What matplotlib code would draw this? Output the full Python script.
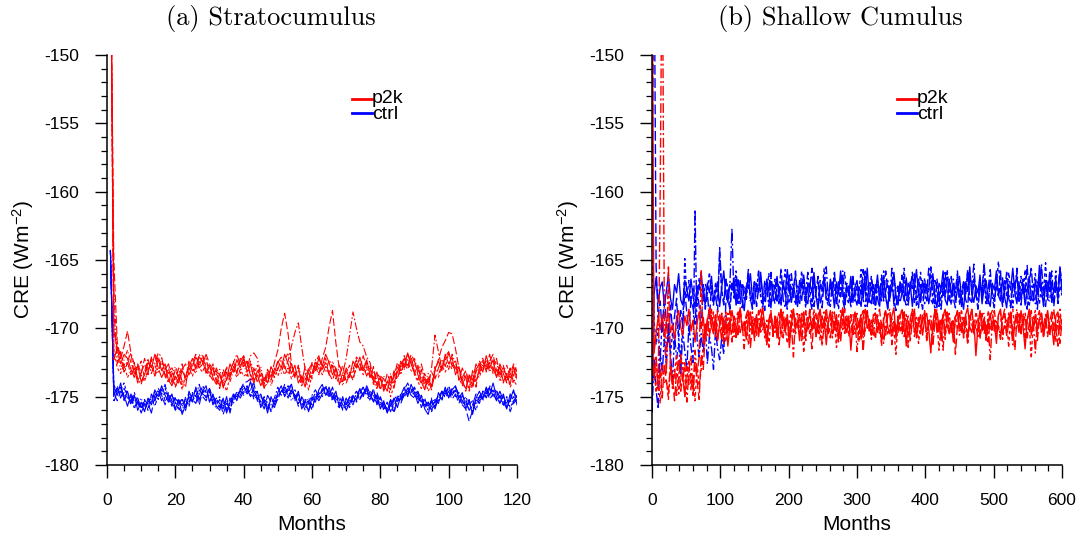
import numpy as np
import matplotlib
matplotlib.use('Agg')
import matplotlib.pyplot as plt

plt.rcParams['font.family'] = ['Liberation Sans', 'DejaVu Sans']
plt.rcParams['axes.unicode_minus'] = False
plt.rcParams['mathtext.default'] = 'regular'

## (a) Stratocumulus : monthly CRE, months 1..120
a_months = np.arange(1, 121)

a_p2k_1 = [-140.0, -170.2, -171.5, -172.6, -171.9, -172.2, -173.0, -173.6, -172.7, -173.9,
           -173.4, -172.5, -172.9, -171.9, -172.3, -173.1, -172.6, -173.8, -174.2, -173.5,
           -174.0, -173.1, -173.6, -172.8, -172.2, -173.0, -172.1, -172.4, -173.3, -172.7,
           -173.6, -174.1, -173.3, -174.3, -173.7, -172.6, -173.2, -172.3, -172.9, -172.1,
           -173.2, -172.6, -173.8, -173.4, -174.2, -173.6, -174.0, -172.8, -173.3, -172.4,
           -172.9, -171.9, -172.6, -173.3, -172.7, -174.0, -173.5, -174.3, -173.0, -172.6,
           -173.1, -172.2, -172.8, -171.9, -172.5, -173.4, -172.9, -174.0, -173.8, -173.1,
           -173.6, -172.4, -172.9, -172.1, -173.0, -172.3, -173.4, -173.8, -173.2, -174.4,
           -174.1, -174.6, -173.5, -174.0, -173.2, -172.5, -172.9, -171.8, -172.6, -173.3,
           -172.7, -173.9, -174.5, -173.6, -174.3, -173.0, -172.4, -173.1, -171.9, -172.6,
           -172.1, -173.4, -172.8, -174.0, -174.4, -173.5, -174.2, -173.0, -172.6, -173.2,
           -172.0, -172.9, -172.3, -173.6, -172.8, -173.9, -173.4, -174.1, -172.8, -173.7]
a_p2k_2 = [-140.0, -165.0, -171.0, -172.2, -171.3, -170.2, -171.8, -173.4, -172.6, -173.3,
           -172.2, -173.0, -172.3, -173.5, -172.1, -172.8, -173.6, -172.9, -174.0, -173.0,
           -173.7, -172.6, -173.9, -173.2, -172.5, -171.9, -172.8, -172.0, -173.1, -173.5,
           -172.8, -173.7, -174.4, -173.0, -173.8, -173.2, -172.4, -173.3, -172.2, -172.8,
           -172.4, -173.5, -172.9, -174.0, -173.2, -173.9, -173.0, -173.6, -172.5, -171.6,
           -170.0, -168.9, -170.4, -172.6, -173.5, -172.8, -174.1, -173.3, -173.9, -172.5,
           -172.8, -173.4, -172.2, -171.4, -169.9, -168.7, -171.1, -173.0, -173.9, -172.9,
           -173.3, -173.8, -172.6, -173.0, -172.0, -172.9, -173.6, -172.8, -174.2, -173.6,
           -174.4, -173.3, -174.0, -173.6, -172.5, -173.1, -172.0, -172.7, -172.1, -173.2,
           -173.8, -173.0, -174.3, -173.8, -174.5, -173.1, -172.3, -171.4, -170.9, -170.3,
           -170.4, -171.5, -172.9, -173.6, -173.1, -174.0, -173.3, -174.3, -172.7, -172.2,
           -173.0, -172.4, -171.9, -173.1, -173.5, -172.7, -174.0, -173.4, -172.6, -173.2]
a_p2k_3 = [-140.0, -168.5, -172.6, -171.7, -172.9, -172.4, -171.8, -172.6, -173.7, -174.1,
           -173.2, -172.2, -173.3, -172.6, -171.8, -172.1, -173.5, -174.0, -173.1, -173.8,
           -172.9, -173.9, -174.3, -172.5, -173.1, -172.8, -171.9, -172.5, -172.2, -173.4,
           -173.8, -172.9, -173.5, -174.0, -172.8, -173.4, -172.5, -171.9, -172.7, -172.3,
           -172.9, -172.0, -171.8, -172.2, -173.4, -174.1, -173.7, -172.9, -173.6, -173.0,
           -172.3, -173.0, -172.4, -171.3, -170.3, -169.6, -171.4, -173.0, -173.9, -173.3,
           -172.4, -173.0, -172.6, -173.2, -172.3, -172.8, -173.7, -172.7, -173.3, -172.2,
           -170.5, -168.8, -170.0, -171.0, -171.3, -172.1, -172.5, -173.9, -174.4, -173.5,
           -173.7, -174.2, -174.5, -173.3, -172.8, -173.4, -172.4, -171.9, -172.6, -172.2,
           -173.2, -172.6, -173.6, -174.2, -172.9, -170.5, -171.7, -173.0, -172.1, -171.7,
           -172.8, -172.3, -173.8, -172.9, -173.6, -174.5, -173.1, -173.9, -173.0, -172.3,
           -173.2, -172.5, -173.1, -172.2, -173.4, -172.8, -173.6, -172.9, -174.0, -173.3]
a_p2k_4 = [-140.0, -171.6, -172.9, -173.3, -172.6, -173.6, -173.1, -172.5, -173.8, -173.4,
           -173.9, -173.0, -172.7, -173.5, -172.9, -172.5, -172.9, -173.3, -172.8, -174.3,
           -173.4, -174.5, -173.4, -172.9, -173.5, -172.6, -172.9, -173.2, -172.5, -172.8,
           -173.5, -173.1, -174.2, -173.8, -174.6, -173.5, -172.9, -173.6, -173.0, -173.5,
           -173.3, -173.9, -173.4, -172.7, -173.7, -174.3, -174.0, -173.4, -172.9, -173.5,
           -172.8, -173.4, -172.9, -173.7, -173.2, -173.5, -174.2, -173.6, -174.5, -173.4,
           -173.0, -172.6, -173.4, -172.8, -173.3, -172.6, -173.5, -174.1, -173.4, -173.8,
           -173.2, -173.7, -172.9, -172.6, -173.4, -173.0, -172.7, -173.6, -174.1, -173.7,
           -174.5, -173.9, -175.0, -174.2, -173.5, -173.2, -172.6, -173.0, -172.4, -173.4,
           -173.9, -174.4, -173.7, -174.6, -174.1, -173.5, -173.6, -172.7, -173.2, -172.5,
           -173.0, -172.7, -173.6, -174.2, -173.5, -174.6, -174.0, -173.4, -173.6, -172.7,
           -173.1, -172.5, -173.3, -172.9, -173.7, -174.0, -173.3, -174.3, -173.8, -174.2]
a_p2k_5 = [-140.0, -172.3, -171.4, -172.0, -173.2, -172.5, -173.4, -172.9, -174.0, -173.2,
           -172.6, -173.4, -172.2, -172.0, -172.9, -173.6, -173.0, -172.6, -173.6, -174.3,
           -173.7, -173.0, -172.6, -173.4, -172.8, -172.1, -172.9, -172.6, -171.9, -172.6,
           -173.0, -173.9, -174.1, -173.5, -172.9, -173.6, -172.8, -173.2, -172.4, -172.0,
           -172.6, -173.3, -174.0, -173.1, -173.5, -174.4, -173.3, -173.8, -173.0, -172.5,
           -172.1, -172.8, -173.4, -172.6, -173.5, -173.0, -173.9, -172.8, -173.3, -173.7,
           -172.5, -172.0, -173.0, -172.5, -173.3, -173.8, -173.0, -173.5, -172.7, -174.0,
           -173.4, -173.0, -172.3, -173.1, -172.7, -173.5, -172.9, -174.1, -173.3, -173.6,
           -174.6, -173.8, -174.2, -173.1, -173.7, -172.7, -172.2, -172.9, -171.9, -172.4,
           -173.4, -174.1, -173.3, -174.0, -173.2, -173.7, -172.9, -172.2, -172.8, -171.8,
           -172.5, -172.9, -173.3, -173.7, -174.6, -173.4, -173.8, -172.6, -173.3, -172.5,
           -172.8, -171.9, -173.0, -173.5, -172.6, -173.3, -174.0, -173.0, -173.5, -172.6]
a_p2k_6 = [-140.0, -167.2, -171.9, -173.0, -172.3, -171.6, -172.5, -173.3, -173.0, -172.4,
           -173.7, -173.3, -172.1, -172.7, -173.3, -172.2, -173.2, -173.9, -173.4, -172.8,
           -173.4, -174.2, -173.6, -172.4, -172.9, -173.3, -172.5, -171.9, -172.9, -173.3,
           -172.6, -173.4, -173.0, -174.4, -173.2, -173.9, -173.1, -172.6, -173.3, -172.5,
           -173.5, -172.4, -173.2, -173.6, -172.8, -174.0, -173.1, -174.2, -173.4, -172.9,
           -173.3, -172.3, -171.8, -172.9, -173.6, -172.7, -173.7, -174.0, -172.9, -173.5,
           -172.3, -173.3, -172.9, -172.2, -173.5, -172.4, -173.0, -173.5, -174.2, -173.3,
           -172.7, -173.3, -172.1, -172.4, -173.2, -172.5, -173.6, -173.1, -173.8, -174.5,
           -173.5, -174.0, -173.3, -174.4, -172.9, -172.4, -173.0, -172.2, -173.2, -172.6,
           -172.9, -173.5, -174.0, -173.3, -174.2, -172.8, -173.4, -172.7, -172.2, -173.0,
           -171.9, -172.6, -173.1, -174.1, -173.2, -174.0, -174.4, -173.2, -172.4, -173.0,
           -172.3, -173.2, -172.7, -172.4, -173.8, -173.1, -172.7, -173.6, -173.2, -172.9]

a_ctrl_1 = [-164.3, -174.3, -174.9, -174.0, -175.2, -174.6, -175.5, -174.9, -176.0, -175.4,
            -176.1, -175.1, -175.6, -174.5, -175.0, -174.2, -174.9, -175.4, -174.8, -175.9,
            -175.2, -176.3, -175.6, -175.0, -175.4, -174.3, -175.2, -174.6, -174.2, -175.4,
            -174.8, -175.7, -176.0, -175.1, -176.2, -175.4, -174.8, -175.3, -174.5, -174.2,
            -174.7, -173.9, -175.0, -174.6, -175.8, -175.2, -176.2, -175.0, -175.6, -174.7,
            -174.2, -175.0, -174.4, -174.1, -175.2, -174.6, -175.9, -175.3, -176.1, -175.0,
            -175.4, -174.5, -174.1, -174.9, -174.3, -175.1, -174.6, -175.8, -175.0, -176.0,
            -175.5, -174.9, -175.3, -174.4, -175.0, -174.2, -174.8, -175.4, -174.9, -175.9,
            -175.3, -176.2, -175.6, -175.1, -175.8, -174.9, -174.3, -175.0, -174.1, -174.7,
            -175.5, -174.9, -175.9, -176.3, -175.2, -175.8, -174.7, -175.2, -174.3, -175.1,
            -174.5, -174.2, -175.1, -174.7, -175.9, -175.3, -176.3, -175.1, -174.6, -175.2,
            -174.3, -174.9, -174.0, -175.0, -175.5, -174.8, -175.8, -175.2, -174.5, -175.6]
a_ctrl_2 = [-164.3, -175.0, -174.2, -175.1, -174.4, -174.9, -175.6, -175.0, -175.4, -176.2,
            -175.5, -175.9, -174.8, -175.3, -174.6, -174.9, -175.6, -174.7, -175.3, -176.0,
            -175.6, -175.1, -176.0, -174.8, -175.3, -174.9, -175.6, -174.5, -175.1, -174.4,
            -175.1, -175.6, -175.2, -176.3, -175.5, -175.9, -174.9, -175.0, -174.5, -174.0,
            -173.9, -173.7, -174.5, -175.2, -174.8, -175.6, -175.4, -176.1, -175.2, -174.9,
            -174.8, -174.1, -175.0, -174.5, -174.9, -175.5, -175.1, -175.7, -176.0, -175.3,
            -174.7, -175.1, -174.4, -174.7, -175.0, -174.3, -175.2, -175.4, -175.9, -175.2,
            -175.8, -175.0, -174.6, -175.1, -174.7, -174.5, -175.1, -174.4, -175.6, -175.0,
            -175.7, -176.0, -175.3, -176.2, -175.1, -175.4, -174.6, -174.8, -174.4, -174.9,
            -174.6, -175.3, -175.8, -175.4, -176.0, -175.3, -175.0, -174.7, -175.0, -174.2,
            -174.9, -174.5, -175.2, -175.6, -175.9, -176.8, -176.0, -175.2, -175.5, -174.6,
            -175.1, -174.4, -174.7, -175.3, -174.9, -175.6, -175.1, -176.1, -175.4, -174.9]
a_ctrl_3 = [-164.3, -175.4, -174.6, -174.3, -175.3, -174.8, -175.0, -175.9, -175.2, -175.7,
            -176.0, -175.4, -175.0, -175.3, -174.4, -174.8, -174.1, -175.2, -175.6, -175.1,
            -175.9, -176.1, -175.0, -175.4, -174.7, -175.0, -174.1, -175.0, -175.3, -174.6,
            -175.5, -175.1, -175.8, -175.4, -176.0, -175.1, -175.5, -174.6, -174.9, -174.3,
            -174.8, -174.5, -174.0, -175.3, -175.6, -175.0, -175.9, -175.6, -175.1, -174.3,
            -174.9, -174.3, -174.7, -174.1, -175.3, -174.8, -175.4, -176.0, -175.4, -174.9,
            -174.5, -175.0, -174.6, -174.2, -174.7, -175.3, -174.9, -175.2, -176.0, -175.5,
            -175.1, -175.6, -174.8, -174.5, -174.9, -174.4, -174.9, -175.3, -174.7, -175.4,
            -175.9, -175.5, -176.1, -175.2, -174.9, -175.2, -174.5, -174.0, -174.6, -174.3,
            -175.0, -175.4, -175.1, -176.0, -175.7, -175.2, -175.5, -174.6, -174.8, -174.4,
            -174.9, -174.3, -174.8, -175.3, -175.7, -175.2, -176.1, -175.5, -175.0, -174.6,
            -174.8, -174.2, -175.0, -174.6, -175.4, -175.0, -175.5, -175.3, -174.6, -175.1]
a_ctrl_4 = [-164.3, -174.1, -174.8, -174.5, -174.0, -174.9, -175.3, -174.7, -175.5, -175.8,
            -175.2, -176.0, -175.3, -174.6, -175.2, -174.5, -174.4, -175.0, -174.9, -175.4,
            -176.0, -175.5, -175.2, -175.7, -174.9, -174.5, -174.9, -174.2, -174.7, -175.3,
            -174.9, -175.4, -175.0, -175.7, -175.3, -176.1, -175.0, -175.2, -174.4, -174.8,
            -174.2, -174.9, -174.5, -174.7, -175.4, -175.1, -175.5, -176.0, -175.3, -175.0,
            -174.5, -174.9, -174.2, -174.8, -174.5, -175.1, -175.7, -175.2, -175.5, -175.9,
            -175.1, -174.7, -175.0, -174.4, -174.6, -174.9, -175.4, -175.0, -175.6, -175.9,
            -175.2, -174.9, -175.4, -174.8, -174.3, -174.8, -174.6, -174.9, -175.5, -175.1,
            -176.0, -175.4, -175.8, -176.1, -175.4, -174.8, -175.1, -174.3, -174.7, -174.4,
            -175.3, -174.9, -175.6, -175.4, -176.1, -175.5, -174.9, -175.3, -174.5, -175.0,
            -174.4, -175.0, -174.7, -175.4, -175.0, -175.6, -175.3, -176.0, -175.1, -174.7,
            -175.0, -174.3, -174.7, -174.5, -175.1, -175.5, -175.0, -175.8, -175.3, -174.9]
a_ctrl_5 = [-164.3, -174.7, -175.3, -174.6, -174.9, -175.7, -174.8, -175.4, -175.1, -175.9,
            -175.3, -175.5, -176.2, -174.9, -174.6, -175.3, -174.7, -174.9, -175.7, -175.0,
            -175.5, -175.2, -175.8, -174.6, -175.2, -175.5, -174.5, -174.8, -175.0, -174.4,
            -175.6, -175.2, -175.5, -175.9, -175.0, -176.2, -175.0, -174.7, -175.1, -174.6,
            -174.4, -175.0, -174.6, -175.1, -175.3, -175.9, -174.9, -175.4, -175.8, -175.1,
            -174.6, -174.5, -175.1, -174.6, -174.8, -175.7, -175.0, -175.5, -175.3, -176.0,
            -174.9, -175.3, -174.8, -174.3, -174.9, -174.7, -175.5, -175.8, -175.2, -175.6,
            -175.0, -175.4, -175.1, -174.7, -174.3, -175.0, -175.2, -174.6, -175.2, -175.8,
            -175.5, -175.9, -175.2, -175.7, -175.0, -175.5, -174.8, -174.4, -174.9, -175.1,
            -174.7, -175.8, -175.2, -175.7, -175.4, -175.9, -175.1, -174.6, -175.1, -174.6,
            -175.2, -174.8, -175.5, -174.9, -175.4, -176.0, -175.6, -174.8, -175.3, -175.0,
            -174.4, -175.2, -174.8, -175.2, -174.6, -175.3, -175.9, -174.8, -175.5, -175.2]
a_ctrl_6 = [-164.3, -174.8, -174.4, -175.0, -174.7, -175.1, -175.0, -175.7, -175.5, -175.1,
            -175.8, -175.2, -175.2, -175.7, -174.9, -174.4, -175.3, -175.0, -175.5, -175.5,
            -175.2, -175.7, -175.3, -175.6, -174.8, -174.6, -175.3, -174.7, -174.5, -175.0,
            -175.3, -175.9, -175.6, -175.2, -175.8, -175.6, -175.1, -174.9, -174.6, -174.9,
            -174.3, -174.4, -175.2, -174.9, -175.0, -175.4, -175.8, -175.2, -175.4, -175.2,
            -174.6, -174.7, -174.4, -175.3, -174.9, -175.2, -175.6, -175.4, -175.1, -175.6,
            -175.2, -174.8, -174.6, -174.9, -174.5, -175.2, -175.0, -175.6, -175.7, -175.1,
            -175.6, -175.1, -174.9, -175.2, -174.8, -174.6, -175.3, -175.1, -174.9, -175.6,
            -175.4, -176.1, -175.4, -175.9, -175.3, -175.0, -174.9, -174.6, -174.5, -175.0,
            -175.0, -175.2, -175.6, -176.0, -175.1, -175.4, -175.3, -174.8, -174.6, -175.0,
            -174.7, -174.6, -175.0, -175.6, -175.2, -175.9, -175.7, -175.4, -174.9, -175.3,
            -174.6, -174.9, -174.5, -175.2, -175.0, -175.7, -175.3, -175.4, -175.0, -175.5]

## (b) Shallow Cumulus : CRE every 3rd month, months 0..600
b_months = np.arange(0, 601, 3)

b_p2k_1 = [-140.0,
           -171.8, -170.4, -169.2, -170.1, -169.0, -170.6, -169.5, -168.9, -170.3, -169.7,
           -170.8, -169.3, -168.7, -169.9, -170.5, -169.1, -169.8, -168.6, -170.2, -169.4,
           -171.0, -169.6, -168.8, -170.0, -169.2, -170.7, -169.5, -168.5, -169.9, -170.4,
           -169.0, -170.9, -169.7, -168.9, -170.3, -169.3, -171.3, -169.8, -168.7, -169.6,
           -170.5, -169.1, -168.6, -170.1, -169.5, -170.8, -169.2, -168.8, -170.4, -169.7,
           -169.0, -170.6, -169.4, -168.5, -169.9, -171.1, -169.6, -168.9, -170.2, -169.3,
           -170.7, -169.8, -168.7, -169.5, -170.3, -169.0, -171.4, -169.7, -168.6, -170.0,
           -169.4, -170.9, -169.2, -168.8, -170.5, -169.6, -168.9, -170.2, -169.1, -170.6,
           -169.8, -168.6, -170.0, -169.3, -171.2, -169.5, -168.7, -170.4, -169.9, -169.0,
           -170.7, -169.4, -168.5, -169.8, -170.3, -169.1, -171.6, -169.7, -168.8, -170.1,
           -169.5, -170.8, -169.2, -168.6, -170.0, -169.6, -170.5, -169.0, -168.9, -170.3,
           -169.7, -171.0, -169.4, -168.7, -169.9, -170.4, -169.1, -168.5, -170.6, -169.3,
           -170.2, -169.8, -168.8, -171.3, -169.5, -170.0, -169.2, -168.6, -170.7, -169.6,
           -169.0, -170.5, -169.3, -168.9, -170.1, -171.8, -169.7, -168.7, -170.3, -169.4,
           -170.9, -169.1, -168.6, -169.8, -170.4, -169.5, -171.0, -169.2, -168.8, -170.0,
           -169.6, -170.6, -169.0, -168.5, -169.9, -170.3, -169.4, -172.0, -169.8, -168.7,
           -170.2, -169.3, -170.8, -169.7, -168.9, -170.1, -169.5, -171.1, -169.0, -168.6,
           -170.4, -169.8, -170.0, -169.2, -168.8, -170.7, -169.6, -169.1, -170.3, -168.7,
           -169.9, -171.5, -169.4, -168.6, -170.5, -169.7, -169.0, -170.2, -169.3, -168.9,
           -170.6, -169.5, -168.7, -170.0, -169.8, -171.2, -169.1, -168.8, -170.1, -169.4]
b_p2k_2 = [-172.8,
           -173.5, -172.1, -174.4, -173.0, -175.1, -172.6, -173.9, -174.8, -172.4, -173.6,
           -175.3, -173.1, -172.3, -174.6, -173.4, -175.0, -172.8, -174.1, -173.3, -174.9,
           -172.5, -173.8, -175.2, -171.9, -173.0, -170.3, -169.4, -170.6, -169.0, -169.8,
           -170.2, -168.7, -169.6, -170.9, -169.3, -168.8, -170.4, -169.5, -171.0, -169.1,
           -169.7, -170.6, -168.5, -169.9, -170.3, -169.2, -168.9, -171.4, -169.8, -169.3,
           -170.5, -169.0, -168.6, -170.1, -169.6, -170.8, -169.4, -168.7, -170.3, -169.9,
           -169.1, -171.2, -169.7, -168.8, -170.0, -169.5, -170.6, -169.2, -168.6, -170.4,
           -169.8, -169.0, -170.9, -169.4, -168.7, -170.2, -169.6, -171.5, -169.3, -168.9,
           -170.5, -169.7, -169.1, -170.0, -168.5, -169.9, -170.7, -169.4, -168.8, -170.3,
           -169.6, -171.0, -169.2, -168.6, -170.1, -169.8, -169.0, -170.6, -169.5, -168.9,
           -170.4, -169.3, -171.7, -169.7, -168.7, -170.2, -169.4, -169.9, -170.8, -169.1,
           -168.6, -170.0, -169.6, -170.5, -169.0, -168.8, -171.2, -169.5, -169.8, -170.3,
           -169.2, -168.5, -170.6, -169.7, -169.1, -170.9, -169.4, -168.9, -170.1, -169.6,
           -170.4, -169.0, -168.7, -170.8, -169.3, -169.9, -171.3, -169.5, -168.6, -170.2,
           -169.7, -169.1, -170.5, -168.8, -169.6, -170.0, -169.3, -171.9, -169.8, -168.7,
           -170.3, -169.5, -169.0, -170.7, -169.4, -168.6, -170.1, -169.8, -170.6, -169.2,
           -168.9, -170.4, -169.6, -171.0, -169.1, -168.7, -170.2, -169.5, -169.9, -170.8,
           -169.3, -168.6, -170.5, -169.7, -169.0, -170.1, -171.6, -169.4, -168.8, -170.3,
           -169.6, -169.1, -170.7, -169.8, -168.7, -170.0, -169.4, -170.9, -169.2, -168.9,
           -170.4, -169.7, -169.0, -170.6, -169.3, -168.6, -170.2, -169.8, -171.1, -169.5]
b_p2k_3 = [-171.5,
           -173.8, -172.2, -174.6, -160.0, -140.0, -168.5, -173.4, -165.4, -172.7, -174.2,
           -172.9, -174.9, -173.5, -171.8, -174.0, -172.4, -175.4, -173.1, -172.0, -174.5,
           -171.6, -173.3, -172.1, -165.7, -171.2, -169.7, -170.5, -169.1, -168.6, -170.2,
           -169.4, -170.8, -169.8, -168.9, -171.1, -169.5, -170.0, -168.7, -169.6, -170.6,
           -169.2, -168.8, -170.3, -169.7, -171.5, -169.0, -168.6, -170.1, -169.4, -170.9,
           -169.8, -168.7, -170.4, -169.3, -169.9, -171.2, -169.5, -168.9, -170.6, -169.1,
           -170.2, -169.6, -168.5, -170.7, -169.4, -169.0, -170.5, -169.8, -172.1, -169.2,
           -168.8, -170.3, -169.7, -169.1, -170.9, -169.5, -168.6, -170.0, -169.3, -170.6,
           -169.0, -168.7, -171.3, -169.6, -169.2, -170.4, -169.9, -168.8, -170.2, -169.4,
           -171.0, -169.7, -168.6, -170.5, -169.1, -169.8, -170.3, -169.5, -168.9, -171.7,
           -169.6, -169.0, -170.7, -169.3, -168.7, -170.1, -169.8, -170.5, -169.2, -168.9,
           -170.4, -169.5, -171.1, -169.7, -169.0, -168.6, -170.3, -169.4, -170.8, -169.1,
           -169.9, -170.2, -168.8, -169.6, -171.4, -169.3, -168.7, -170.6, -169.8, -169.2,
           -170.0, -169.5, -168.9, -170.9, -169.7, -169.1, -170.4, -168.6, -169.9, -170.3,
           -169.4, -171.6, -169.0, -168.8, -170.2, -169.6, -170.7, -169.3, -168.7, -170.5,
           -169.8, -169.1, -170.1, -171.0, -169.5, -168.6, -170.4, -169.7, -169.2, -170.8,
           -169.0, -168.9, -170.3, -169.6, -172.3, -169.4, -168.7, -170.0, -169.8, -170.6,
           -169.3, -169.0, -170.5, -168.8, -169.7, -171.2, -169.5, -168.6, -170.2, -169.9,
           -169.1, -170.7, -169.4, -168.9, -170.1, -169.6, -171.8, -169.2, -168.7, -170.4,
           -169.8, -169.0, -170.6, -169.5, -168.8, -170.3, -169.7, -171.3, -169.1, -169.6]
b_p2k_4 = [-168.0,
           -172.9, -174.7, -173.3, -175.5, -172.6, -174.0, -173.7, -175.2, -172.9, -174.4,
           -173.2, -171.9, -174.8, -173.6, -172.5, -175.0, -173.9, -172.3, -174.5, -173.4,
           -175.3, -172.8, -174.2, -173.0, -171.5, -170.9, -169.3, -170.4, -169.8, -168.8,
           -170.6, -169.5, -169.0, -170.2, -169.7, -171.0, -168.9, -169.6, -170.4, -169.2,
           -170.8, -169.4, -168.7, -170.0, -169.8, -169.1, -171.2, -169.6, -168.8, -170.5,
           -169.3, -170.1, -169.7, -168.6, -170.7, -169.4, -171.5, -169.0, -169.8, -170.3,
           -169.5, -168.8, -170.6, -169.2, -169.9, -171.1, -169.6, -168.7, -170.4, -169.3,
           -170.0, -169.7, -168.9, -171.8, -169.5, -169.1, -170.5, -169.8, -168.6, -170.2,
           -169.4, -170.9, -169.0, -168.8, -170.3, -169.6, -169.2, -170.7, -169.5, -171.4,
           -169.1, -168.7, -170.1, -169.8, -169.3, -170.6, -169.0, -168.9, -170.4, -169.7,
           -171.0, -169.4, -168.6, -170.2, -169.9, -169.2, -170.8, -169.5, -168.8, -170.0,
           -169.6, -171.3, -169.1, -168.7, -170.5, -169.8, -169.3, -170.1, -171.9, -169.4,
           -168.9, -170.4, -169.7, -169.0, -170.6, -169.5, -168.6, -170.3, -169.2, -171.1,
           -169.8, -169.3, -168.8, -170.5, -169.6, -169.9, -170.2, -168.7, -169.4, -171.6,
           -169.7, -169.0, -170.8, -169.3, -168.9, -170.4, -169.6, -169.1, -170.0, -169.8,
           -168.6, -170.7, -169.5, -171.2, -169.0, -169.7, -170.3, -168.8, -169.4, -170.6,
           -169.9, -169.2, -171.0, -168.7, -170.1, -169.6, -169.3, -170.5, -169.0, -168.9,
           -170.8, -169.7, -169.4, -171.4, -169.1, -168.6, -170.2, -169.8, -169.5, -170.4,
           -169.0, -168.8, -170.6, -169.6, -172.2, -169.3, -168.7, -170.0, -169.9, -169.4,
           -170.7, -169.2, -168.9, -170.3, -169.8, -169.5, -171.0, -169.1, -168.6, -170.2]

b_ctrl_1 = [-176.0,
            -167.5, -166.3, -168.1, -167.0, -166.6, -168.4, -167.3, -166.1, -167.8, -168.6,
            -166.8, -167.4, -166.0, -167.9, -168.3, -166.5, -167.1, -168.0, -166.4, -167.6,
            -168.5, -166.9, -167.2, -165.9, -167.7, -168.2, -166.7, -167.4, -166.2, -168.0,
            -167.3, -166.6, -168.4, -167.0, -165.8, -167.5, -168.1, -166.8, -167.2, -166.3,
            -168.3, -167.6, -166.5, -167.9, -168.7, -166.9, -167.1, -166.0, -167.8, -168.2,
            -166.7, -167.4, -165.9, -167.6, -168.0, -166.4, -167.3, -168.5, -166.8, -167.0,
            -166.2, -167.9, -168.3, -166.6, -167.5, -165.7, -167.2, -168.1, -166.9, -167.7,
            -168.4, -166.5, -167.0, -166.1, -167.8, -168.2, -166.7, -167.4, -165.9, -167.6,
            -168.6, -166.8, -167.3, -166.3, -167.9, -168.0, -166.4, -167.1, -168.5, -166.6,
            -167.5, -165.8, -167.2, -168.3, -166.9, -167.6, -166.2, -168.1, -167.0, -166.5,
            -167.8, -168.4, -166.7, -167.3, -165.6, -167.9, -168.2, -166.8, -167.4, -166.1,
            -168.0, -167.5, -166.4, -167.7, -168.6, -166.9, -167.1, -165.9, -167.6, -168.3,
            -166.6, -167.2, -168.0, -166.3, -167.8, -166.8, -168.4, -167.0, -165.7, -167.5,
            -168.1, -166.5, -167.4, -166.9, -168.2, -167.3, -166.0, -167.7, -168.5, -166.7,
            -167.1, -165.8, -167.9, -168.3, -166.4, -167.6, -166.8, -168.0, -167.2, -166.2,
            -167.8, -168.6, -166.6, -167.3, -165.5, -167.5, -168.1, -166.9, -167.4, -166.1,
            -168.2, -167.0, -166.5, -167.9, -168.4, -166.7, -167.2, -165.8, -167.6, -168.0,
            -166.3, -167.7, -168.5, -166.8, -167.1, -165.6, -167.4, -168.2, -166.6, -167.9,
            -166.9, -168.3, -167.3, -166.2, -167.8, -168.0, -166.5, -167.5, -165.4, -167.1,
            -168.4, -166.7, -167.6, -166.0, -168.1, -167.2, -166.4, -167.9, -165.7, -167.3]
b_ctrl_2 = [-162.0, -140.0, -165.5, -169.2,
            -168.0, -170.4, -167.5, -169.6, -171.0, -168.3, -170.1,
            -169.1, -167.8, -170.6, -168.7, -169.8, -167.3, -168.9, -170.2, -167.9, -168.5,
            -169.7, -167.1, -168.4, -170.0, -166.8, -168.6, -167.4, -169.3, -166.9, -168.1,
            -167.6, -168.8, -164.1, -167.2, -168.3, -166.5, -167.9, -168.6, -166.7, -167.4,
            -168.1, -166.3, -167.7, -168.5, -166.9, -167.2, -165.7, -168.0, -167.5, -166.6,
            -168.4, -167.0, -166.2, -167.8, -168.7, -166.8, -167.3, -165.9, -167.6, -168.2,
            -166.4, -167.1, -168.0, -166.7, -167.5, -168.6, -166.1, -167.9, -167.2, -165.8,
            -167.7, -168.3, -166.5, -167.4, -168.1, -166.9, -167.0, -165.6, -168.4, -167.3,
            -166.6, -167.8, -168.5, -166.3, -167.2, -168.0, -166.8, -167.6, -165.9, -168.2,
            -167.1, -166.4, -167.9, -168.6, -166.7, -167.4, -168.1, -166.2, -167.7, -168.3,
            -166.9, -167.5, -165.7, -167.3, -168.4, -166.6, -167.0, -168.2, -166.8, -167.8,
            -168.5, -166.3, -167.6, -165.8, -167.2, -168.0, -166.5, -167.9, -168.7, -166.9,
            -167.4, -166.1, -167.8, -168.3, -166.7, -167.1, -165.9, -168.1, -167.5, -166.4,
            -167.7, -168.6, -166.8, -167.3, -165.6, -167.9, -168.2, -166.5, -167.0, -168.4,
            -166.9, -167.6, -165.9, -167.4, -168.0, -166.2, -167.8, -168.5, -166.7, -167.1,
            -168.3, -166.6, -167.5, -165.7, -167.9, -168.1, -166.4, -167.3, -168.6, -166.8,
            -167.2, -165.2, -167.7, -168.2, -166.5, -167.4, -168.0, -166.9, -167.6, -165.8,
            -168.4, -167.0, -166.3, -167.8, -168.5, -166.7, -167.1, -166.0, -167.9, -168.3,
            -166.6, -167.5, -165.4, -167.7, -168.1, -166.8, -167.3, -168.6, -166.2, -167.6,
            -168.0, -166.5, -167.8, -165.9, -167.2, -168.4, -166.9, -167.5, -165.6, -166.8]
b_ctrl_3 = [-176.2,
            -172.3, -174.5, -175.9, -171.6, -173.2, -170.8, -172.7, -169.9, -171.9, -173.8,
            -170.5, -172.2, -171.1, -173.4, -170.2, -171.7, -172.9, -169.8, -171.3, -172.5,
            -161.3, -170.9, -172.1, -170.4, -171.8, -169.7, -172.6, -170.6, -171.4, -173.0,
            -170.1, -171.5, -172.3, -170.7, -171.9, -168.2, -167.4, -166.8, -162.7, -167.9,
            -166.4, -168.3, -167.1, -166.7, -168.0, -167.5, -166.1, -167.8, -168.6, -166.9,
            -167.3, -165.8, -167.6, -168.2, -166.5, -167.0, -168.4, -166.3, -167.7, -166.8,
            -168.1, -167.2, -165.6, -167.9, -168.5, -166.6, -167.4, -166.0, -167.6, -168.3,
            -166.9, -167.1, -168.0, -166.4, -167.5, -165.9, -167.8, -168.6, -166.7, -167.3,
            -166.2, -168.2, -167.6, -166.8, -165.5, -167.9, -168.4, -166.5, -167.2, -168.1,
            -166.6, -167.7, -165.8, -168.0, -167.3, -166.9, -168.5, -166.3, -167.4, -167.0,
            -168.3, -166.7, -167.9, -165.7, -167.5, -168.2, -166.4, -167.1, -168.6, -166.8,
            -167.6, -166.1, -168.0, -167.3, -166.5, -167.8, -165.6, -168.4, -167.0, -166.9,
            -168.1, -167.4, -166.2, -167.7, -168.3, -166.6, -167.2, -165.9, -167.9, -168.5,
            -166.8, -167.5, -166.3, -168.0, -167.1, -165.5, -167.6, -168.2, -166.7, -167.4,
            -168.6, -166.9, -167.3, -166.0, -167.8, -168.1, -166.4, -167.5, -165.8, -168.3,
            -167.2, -166.6, -167.9, -168.4, -166.2, -167.0, -165.3, -167.7, -168.0, -166.8,
            -167.4, -166.5, -168.2, -167.1, -165.7, -167.8, -168.5, -166.3, -167.6, -166.9,
            -168.1, -167.3, -165.9, -167.5, -168.3, -166.7, -167.2, -165.6, -168.0, -167.4,
            -166.4, -167.9, -168.6, -166.8, -165.5, -167.6, -168.2, -166.6, -167.0, -165.3,
            -167.8, -168.4, -166.5, -167.3, -165.8, -168.0, -166.9, -167.4, -165.5, -167.1]
b_ctrl_4 = [-165.0,
            -169.4, -171.2, -170.0, -172.4, -169.2, -170.8, -171.7, -169.6, -172.0, -170.3,
            -171.5, -169.1, -170.7, -172.2, -169.8, -164.9, -167.8, -166.5, -168.2, -167.0,
            -167.7, -168.4, -166.3, -167.5, -168.0, -166.8, -167.2, -165.9, -167.6, -168.3,
            -166.6, -167.9, -164.6, -167.3, -168.1, -166.4, -167.0, -168.5, -166.9, -167.4,
            -165.8, -167.6, -168.2, -166.7, -167.1, -168.0, -166.2, -167.8, -168.4, -166.5,
            -167.3, -165.9, -167.7, -168.6, -166.8, -167.2, -166.0, -167.9, -168.1, -166.4,
            -167.5, -168.3, -166.6, -167.0, -165.7, -167.8, -168.2, -166.9, -167.4, -166.1,
            -168.0, -167.6, -165.8, -167.3, -168.5, -166.7, -167.1, -168.4, -166.3, -167.7,
            -168.1, -166.5, -167.2, -165.6, -167.9, -168.3, -166.8, -167.4, -166.0, -167.6,
            -168.6, -166.9, -167.0, -165.9, -167.8, -168.2, -166.4, -167.5, -168.0, -166.6,
            -167.3, -165.7, -167.9, -168.4, -166.8, -167.1, -166.2, -167.6, -168.3, -166.5,
            -167.2, -168.0, -165.8, -167.7, -168.5, -166.9, -167.4, -166.1, -167.9, -168.2,
            -166.6, -167.5, -165.6, -167.8, -168.1, -166.7, -167.0, -166.3, -168.4, -167.3,
            -165.9, -167.6, -168.2, -166.8, -167.2, -166.0, -167.9, -168.5, -166.4, -167.4,
            -168.0, -166.5, -167.7, -165.7, -167.3, -168.3, -166.9, -167.1, -166.2, -167.8,
            -168.4, -166.6, -167.5, -165.8, -167.9, -168.1, -166.3, -167.0, -168.6, -166.7,
            -167.6, -165.4, -167.8, -168.2, -166.5, -167.3, -168.0, -166.8, -165.1, -167.4,
            -168.3, -166.4, -167.7, -165.9, -167.2, -168.5, -166.6, -167.9, -168.1, -166.2,
            -167.5, -165.7, -167.8, -168.4, -166.9, -167.1, -166.0, -167.6, -168.2, -166.7,
            -167.3, -165.2, -167.9, -168.0, -166.5, -167.4, -165.8, -168.3, -166.9, -167.6]

red = '#ff0000'
blue = '#0000ff'
dashes = ['-', (0, (7, 2.5)), (0, (7, 2, 1.5, 2)), (0, (2.5, 2)),
          (0, (11, 3)), (0, (4, 2, 1, 2, 1, 2))]


def panel(ax, x, p2k, ctrl, xmax, xmajor, xminor, lw):
    for ii, vals in enumerate(ctrl):
        ax.plot(x[:len(vals)], vals, color=blue, lw=lw, ls=dashes[ii])
    for ii, vals in enumerate(p2k):
        ax.plot(x[:len(vals)], vals, color=red, lw=lw, ls=dashes[ii])
    ax.set_xlim(0, xmax)
    ax.set_ylim(-180, -150)
    ax.set_xticks(np.arange(0, xmax + 1, xmajor))
    ax.set_xticks(np.arange(0, xmax + 1, xminor), minor=True)
    ax.set_yticks(np.arange(-180, -149, 5))
    ax.set_yticks(np.arange(-180, -149, 1), minor=True)
    ax.spines['top'].set_visible(False)
    ax.spines['right'].set_visible(False)
    for s in ['left', 'bottom']:
        ax.spines[s].set_linewidth(1.1)
    ax.tick_params(which='major', direction='out', length=9, width=1.0,
                   labelsize=12.5, pad=11)
    ax.tick_params(which='minor', direction='out', length=4.5, width=0.9)
    ax.set_xlabel('Months', fontsize=15, labelpad=5)
    ax.set_ylabel('CRE (Wm$^{-2}$)', fontsize=15, labelpad=6)
    # legend drawn by hand, NCL style
    ax.plot([0.598, 0.646], [0.893, 0.893], color=red, lw=2,
            transform=ax.transAxes, clip_on=False)
    ax.plot([0.598, 0.646], [0.859, 0.859], color=blue, lw=2,
            transform=ax.transAxes, clip_on=False)
    ax.text(0.646, 0.895, 'p2k', transform=ax.transAxes, fontsize=14,
            va='center', ha='left')
    ax.text(0.646, 0.854, 'ctrl', transform=ax.transAxes, fontsize=14,
            va='center', ha='left')


W, H = 1083, 542
fig = plt.figure(figsize=(W / 100, H / 100), dpi=100)
ax1 = fig.add_axes([107 / W, 1 - 465 / H, 410 / W, 410 / H])
ax2 = fig.add_axes([652 / W, 1 - 465 / H, 410 / W, 410 / H])

panel(ax1, a_months,
      [a_p2k_1, a_p2k_2, a_p2k_3, a_p2k_4, a_p2k_5, a_p2k_6],
      [a_ctrl_1, a_ctrl_2, a_ctrl_3, a_ctrl_4, a_ctrl_5, a_ctrl_6],
      120, 20, 5, 0.8)
panel(ax2, b_months, [b_p2k_1, b_p2k_2, b_p2k_3, b_p2k_4],
      [b_ctrl_1, b_ctrl_2, b_ctrl_3, b_ctrl_4], 600, 100, 20, 1.0)

fig.text(271 / W, 1 - 18 / H, '(a) Stratocumulus', family='cmr10',
         fontsize=19, ha='center', va='center')
fig.text(840 / W, 1 - 18 / H, '(b) Shallow Cumulus', family='cmr10',
         fontsize=19, ha='center', va='center')

fig.savefig('out.png', dpi=100)
